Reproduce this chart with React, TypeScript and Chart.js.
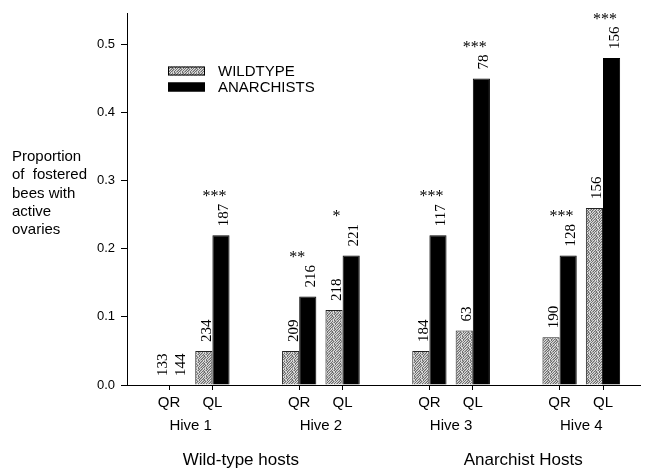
import React, { useEffect, useRef } from "react";
import { Chart, registerables } from "chart.js";

Chart.register(...registerables);

const hives = ["Hive 1", "Hive 2", "Hive 3", "Hive 4"];
const queenStates = ["QR", "QL"];
const hostGroups = ["Wild-type hosts", "Anarchist Hosts"];
const hostGroupHives = [[0, 1], [2, 3]];
const seriesNames = ["WILDTYPE", "ANARCHISTS"];
const wildtypeValues = [0, 0.05, 0.05, 0.11, 0.05, 0.08, 0.07, 0.26];
const anarchistValues = [0, 0.22, 0.13, 0.19, 0.22, 0.45, 0.19, 0.48];
const wildtypeN = ["133", "234", "209", "218", "184", "63", "190", "156"];
const anarchistN = ["144", "187", "216", "221", "117", "78", "128", "156"];
const significance = ["", "***", "**", "*", "***", "***", "***", "***"];
const yTitleLines = ["Proportion", "of  fostered", "bees with", "active", "ovaries"];

// slot on the x axis: hives separated by one empty slot
const slotOf = (i: number) => Math.floor(i / 2) * 3 + (i % 2) + 1;
const slots = wildtypeValues.map((_, i) => slotOf(i));

const SANS = "'Liberation Sans', Arial, Helvetica, sans-serif";
const SERIF = "'Liberation Serif', 'Times New Roman', serif";

// fixed stipple texture (8x8), 0 = light, 1 = mid, 2 = dark
const STIPPLE = [
  "10201021",
  "02102012",
  "21020120",
  "10212002",
  "02012102",
  "20120210",
  "01202102",
  "12021020",
];

function makePattern(): CanvasPattern | string {
  const c = document.createElement("canvas");
  c.width = 8;
  c.height = 8;
  const g = c.getContext("2d");
  if (!g) return "#b0b0b0";
  const cols = ["#dcdcdc", "#a8a8a8", "#6e6e6e"];
  for (let y = 0; y < 8; y++)
    for (let x = 0; x < 8; x++) {
      g.fillStyle = cols[Number(STIPPLE[y][x])];
      g.fillRect(x, y, 1, 1);
    }
  const p = g.createPattern(c, "repeat");
  return p || "#b0b0b0";
}

export default function App() {
  const ref = useRef<HTMLCanvasElement>(null);

  useEffect(() => {
    const canvas = ref.current;
    if (!canvas) return;
    const pattern = makePattern();

    const annotate = {
      id: "annotate",
      afterDraw(chart: any) {
        const ctx = chart.ctx;
        const xs = chart.scales.x;
        ctx.save();
        ctx.fillStyle = "#000";

        // bar sample sizes and significance
        const labelSets = [wildtypeN, anarchistN];
        [0, 1].forEach((di) => {
          const meta = chart.getDatasetMeta(di);
          meta.data.forEach((el: any, j: number) => {
            const txt = labelSets[di][j];
            ctx.font = `15px ${SERIF}`;
            const w = ctx.measureText(txt).width;
            ctx.save();
            ctx.translate(el.x + 3, el.y - 9);
            ctx.rotate(-Math.PI / 2);
            ctx.textAlign = "left";
            ctx.textBaseline = "middle";
            ctx.fillText(txt, 0, 0);
            ctx.restore();
            if (di === 1 && significance[j]) {
              const top = el.y - 9 - w;
              const cx = xs.getPixelForValue(slots[j]);
              ctx.font = `16px ${SERIF}`;
              ctx.textAlign = "left";
              ctx.textBaseline = "middle";
              ctx.fillText(significance[j], cx - 10, top - 7);
            }
          });
        });

        // hive labels
        ctx.font = `15px ${SANS}`;
        ctx.textAlign = "center";
        ctx.textBaseline = "middle";
        hives.forEach((h, hi) => {
          const c = (xs.getPixelForValue(slots[hi * 2]) + xs.getPixelForValue(slots[hi * 2 + 1])) / 2;
          ctx.fillText(h, c, 426);
        });

        // host group labels
        ctx.font = `17px ${SANS}`;
        const shifts = [-15, 7];
        hostGroups.forEach((g, gi) => {
          const hs = hostGroupHives[gi];
          const a = xs.getPixelForValue(slots[hs[0] * 2]);
          const b = xs.getPixelForValue(slots[hs[hs.length - 1] * 2 + 1]);
          ctx.fillText(g, (a + b) / 2 + shifts[gi], 460);
        });

        // y title
        ctx.font = `15px ${SANS}`;
        ctx.textAlign = "left";
        yTitleLines.forEach((l, i) => ctx.fillText(l, 12, 157 + i * 18.3));

        // legend
        const ds = chart.data.datasets;
        const rows = [71, 87];
        seriesNames.forEach((name, i) => {
          ctx.fillStyle = ds[i].backgroundColor;
          ctx.fillRect(168, rows[i] - 4.5, 37, 9);
          ctx.strokeStyle = "#000";
          ctx.lineWidth = 1;
          ctx.strokeRect(168.5, rows[i] - 4, 36, 8);
          ctx.fillStyle = "#000";
          ctx.font = `15px ${SANS}`;
          ctx.fillText(name, 218, rows[i] + 1);
        });
        ctx.restore();
      },
    };

    const chart = new Chart(canvas, {
      type: "bar",
      data: {
        datasets: [
          {
            label: seriesNames[0],
            data: wildtypeValues.map((v, i) => ({ x: slots[i], y: v })),
            backgroundColor: pattern as any,
            borderColor: "#222",
            borderWidth: 1,
            categoryPercentage: 0.79,
            barPercentage: 1,
          },
          {
            label: seriesNames[1],
            data: anarchistValues.map((v, i) => ({ x: slots[i], y: v })),
            backgroundColor: "#000",
            borderColor: "#000",
            borderWidth: 1,
            categoryPercentage: 0.79,
            barPercentage: 1,
          },
        ],
      },
      options: {
        animation: false,
        responsive: false,
        layout: { padding: { top: 12, right: 7, left: 0, bottom: 0 } },
        plugins: {
          legend: { display: false },
          tooltip: { enabled: false },
          title: { display: false },
        },
        scales: {
          x: {
            type: "linear",
            offset: false,
            min: 1 - 42 / 43.4,
            max: 11 + 37 / 43.4,
            afterBuildTicks: (s: any) => {
              s.ticks = slots.map((v) => ({ value: v }));
            },
            afterFit: (s: any) => {
              s.height = 83;
            },
            ticks: {
              autoSkip: false,
              maxRotation: 0,
              padding: 4,
              color: "#000",
              font: { family: SANS, size: 15 },
              callback: (v: any) => {
                const i = slots.indexOf(Number(v));
                return i >= 0 ? queenStates[i % 2] : "";
              },
            },
            grid: { display: true, offset: false, drawOnChartArea: false, drawTicks: true, tickLength: 5, color: "#000" },
            border: { display: true, color: "#000", width: 1 },
          },
          y: {
            min: 0,
            max: 0.545,
            afterFit: (s: any) => {
              s.width = 127;
            },
            ticks: {
              stepSize: 0.1,
              includeBounds: false,
              padding: 6,
              color: "#000",
              font: { family: SANS, size: 13 },
              callback: (v: any) => Number(v).toFixed(1),
            },
            grid: { display: true, drawOnChartArea: false, drawTicks: true, tickLength: 6, color: "#000" },
            border: { display: true, color: "#000", width: 1 },
          },
        },
      } as any,
      plugins: [annotate],
    });
    return () => chart.destroy();
  }, []);

  return (
    <div style={{ position: "fixed", left: 0, top: 0, width: 647, height: 468, background: "#fff" }}>
      <canvas ref={ref} width={647} height={468} />
    </div>
  );
}
